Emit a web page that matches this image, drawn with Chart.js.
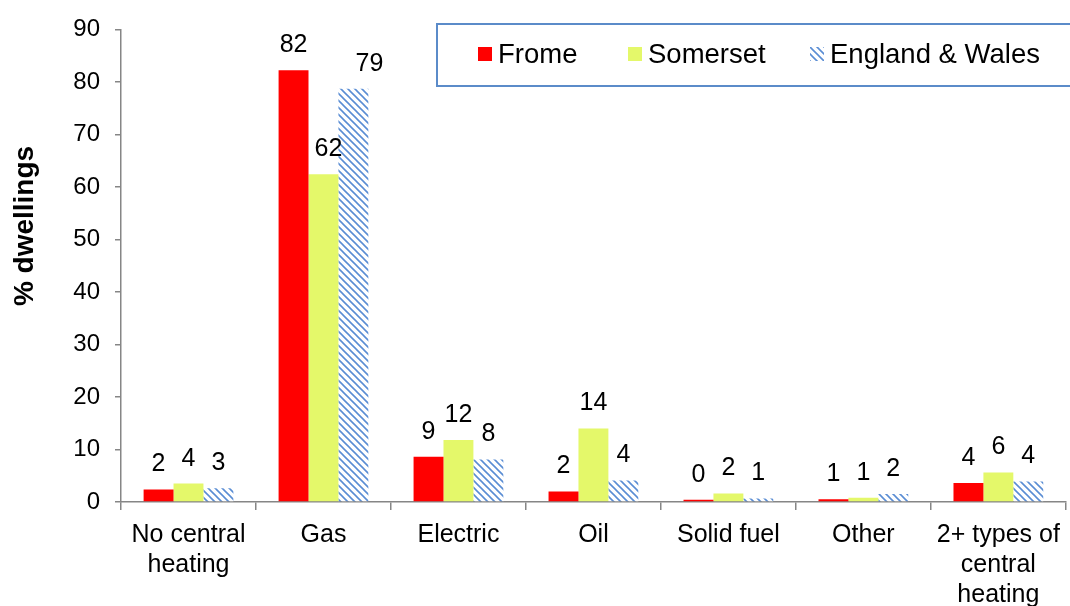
<!DOCTYPE html>
<html>
<head>
<meta charset="utf-8">
<script src="https://cdn.jsdelivr.net/npm/chart.js@4"></script>
<style>
html,body{margin:0;padding:0;background:#fff;}
#c{display:block;}
</style>
</head>
<body>
<canvas id="c" width="1070" height="606"></canvas>
<script>
const categories = [["No central","heating"], "Gas", "Electric", "Oil", "Solid fuel", "Other", ["2+ types of","central","heating"]];
const seriesNames = ["Frome", "Somerset", "England & Wales"];
const frome = [2.4, 82.2, 8.6, 2.0, 0.45, 0.5, 3.6];
const somerset = [3.5, 62.4, 11.8, 14.0, 1.6, 0.8, 5.6];
const englandWales = [2.6, 78.7, 8.1, 4.1, 0.65, 1.5, 3.9];
const yTicks = [0, 10, 20, 30, 40, 50, 60, 70, 80, 90];
const yTitle = "% dwellings";

const FONT = "'Liberation Sans', Arial, sans-serif";

function makePattern(size) {
  const pc = document.createElement('canvas');
  pc.width = size; pc.height = size;
  const p = pc.getContext('2d');
  p.fillStyle = '#ffffff';
  p.fillRect(0, 0, size, size);
  p.strokeStyle = '#5a8dd4';
  p.lineWidth = 1.6;
  p.beginPath();
  p.moveTo(-size, 0); p.lineTo(size, 2 * size);
  p.moveTo(0, 0); p.lineTo(size, size);
  p.moveTo(0, -size); p.lineTo(2 * size, size);
  p.stroke();
  return document.getElementById('c').getContext('2d').createPattern(pc, 'repeat');
}
const hatch = makePattern(7);

const colors = ['#ff0000', '#e4f86a', hatch];

const labelPlugin = {
  id: 'barLabels',
  afterDatasetsDraw(chart) {
    const ctx = chart.ctx;
    ctx.save();
    ctx.font = "25px " + FONT;
    ctx.fillStyle = '#000';
    ctx.textAlign = 'center';
    ctx.textBaseline = 'middle';
    chart.data.datasets.forEach((ds, di) => {
      const meta = chart.getDatasetMeta(di);
      meta.data.forEach((bar, i) => {
        let dx = 0;
        if (di === 2 && i === 1) dx = 16;
        if (di === 1 && i === 1) dx = 5;
        ctx.fillText(String(Math.round(ds.data[i])), bar.x + dx, bar.y - 25);
      });
    });
    ctx.restore();
  }
};

const extrasPlugin = {
  id: 'extras',
  afterDraw(chart) {
    const ctx = chart.ctx;
    ctx.save();
    // y-axis title
    ctx.translate(25, 226);
    ctx.rotate(-Math.PI / 2);
    ctx.font = "bold 28px " + FONT;
    ctx.fillStyle = '#000';
    ctx.textAlign = 'center';
    ctx.textBaseline = 'middle';
    ctx.fillText(yTitle, 0, 0);
    ctx.restore();

    // legend box
    ctx.save();
    ctx.fillStyle = '#fff';
    ctx.fillRect(437, 24, 640, 62);
    ctx.strokeStyle = '#5b8bc9';
    ctx.lineWidth = 2;
    ctx.strokeRect(437, 24, 640, 62);
    const xs = [478, 628, 810];
    ctx.font = "27.5px " + FONT;
    ctx.textBaseline = 'middle';
    ctx.textAlign = 'left';
    chart.data.datasets.forEach((ds, i) => {
      ctx.fillStyle = ds.backgroundColor;
      ctx.fillRect(xs[i], 47, 14, 14);
      ctx.fillStyle = '#000';
      ctx.fillText(ds.label, xs[i] + 20, 55);
    });
    ctx.restore();
  }
};

new Chart(document.getElementById('c'), {
  type: 'bar',
  data: {
    labels: categories,
    datasets: [
      { label: seriesNames[0], data: frome, backgroundColor: colors[0] },
      { label: seriesNames[1], data: somerset, backgroundColor: colors[1] },
      { label: seriesNames[2], data: englandWales, backgroundColor: colors[2] }
    ]
  },
  options: {
    responsive: false,
    animation: false,
    devicePixelRatio: 1,
    layout: { padding: { left: 0, right: 2, top: 28, bottom: 0 } },
    datasets: { bar: { categoryPercentage: 0.665, barPercentage: 1.0, borderWidth: 0 } },
    plugins: { legend: { display: false }, tooltip: { enabled: false } },
    scales: {
      x: {
        grid: { offset: true, drawOnChartArea: false, tickLength: 8, color: '#868686', lineWidth: 1.5 },
        border: { color: '#868686', width: 1.5 },
        ticks: { font: { family: FONT, size: 25, lineHeight: 1.2 }, color: '#000', padding: 10, maxRotation: 0, autoSkip: false },
        afterFit: (s) => { s.height = 104; }
      },
      y: {
        min: 0, max: 90,
        afterBuildTicks: (s) => { s.ticks = yTicks.map(v => ({ value: v })); },
        grid: { drawOnChartArea: false, tickLength: 6, color: '#868686', lineWidth: 1.5 },
        border: { color: '#868686', width: 1.5 },
        ticks: { font: { family: FONT, size: 24 }, color: '#000', padding: 15, crossAlign: 'near' },
        afterFit: (s) => { s.width = 121; }
      }
    }
  },
  plugins: [labelPlugin, extrasPlugin]
});
</script>
</body>
</html>
